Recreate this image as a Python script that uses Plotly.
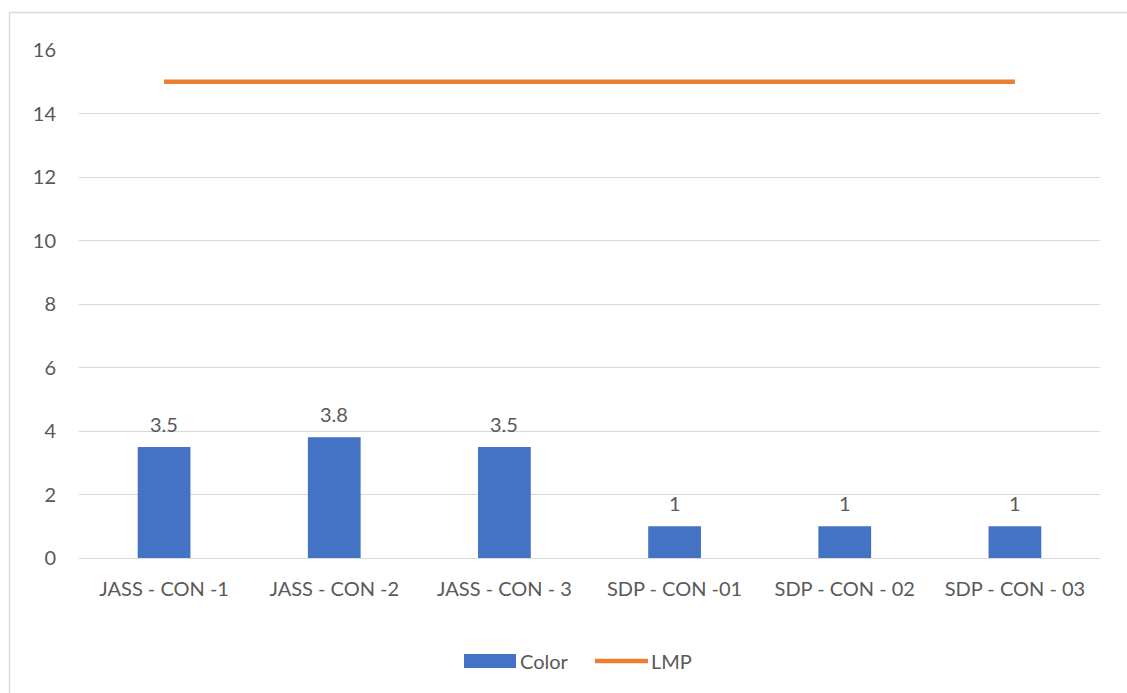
import plotly.graph_objects as go

categories = ["JASS - CON -1", "JASS - CON -2", "JASS - CON - 3",
              "SDP - CON -01", "SDP - CON - 02", "SDP - CON - 03"]
color_values = [3.5, 3.8, 3.5, 1, 1, 1]
lmp_values = [15, 15, 15, 15, 15, 15]
y_ticks = [0, 2, 4, 6, 8, 10, 12, 14, 16]

BLUE = "#4472C4"
ORANGE = "#ED7D31"
TEXT = "#595959"
GRID = "#D9D9D9"
FONT = "Lato"
FS = 20

fig = go.Figure()
fig.add_trace(go.Bar(x=categories, y=color_values, name="Color",
                     marker=dict(color=BLUE, line=dict(width=0)),
                     showlegend=False))
fig.add_trace(go.Scatter(x=categories, y=lmp_values, name="LMP", mode="lines",
                         line=dict(color=ORANGE, width=4.5),
                         showlegend=False))

# value labels above each bar
for c, v in zip(categories, color_values):
    fig.add_annotation(x=c, y=v, text=str(v), showarrow=False,
                       yanchor="bottom", yshift=9,
                       font=dict(family=FONT, size=FS, color=TEXT))

W, H = 1127, 693
L, R, T, B = 79, 27, 50, 135
pw, ph = W - L - R, H - T - B

def px(x):
    return (x - L) / pw

def py(y):
    return (H - B - y) / ph

# outer chart frame
fig.add_shape(type="rect", xref="paper", yref="paper",
              x0=px(9.5), x1=px(1135), y0=py(705), y1=py(12.5),
              line=dict(color=GRID, width=1.3), layer="below")

# legend drawn as shapes + text
ly = py(661)
fig.add_shape(type="rect", xref="paper", yref="paper",
              x0=px(464), x1=px(516), y0=py(668), y1=py(654),
              fillcolor=BLUE, line=dict(width=0))
fig.add_annotation(xref="paper", yref="paper", x=px(518), y=ly, text="Color",
                   showarrow=False, xanchor="left", yanchor="middle",
                   font=dict(family=FONT, size=FS, color=TEXT))
fig.add_shape(type="line", xref="paper", yref="paper",
              x0=px(595), x1=px(648), y0=ly, y1=ly,
              line=dict(color=ORANGE, width=4.5))
fig.add_annotation(xref="paper", yref="paper", x=px(649), y=ly, text="LMP",
                   showarrow=False, xanchor="left", yanchor="middle",
                   font=dict(family=FONT, size=FS, color=TEXT))

fig.update_layout(
    width=W, height=H,
    margin=dict(l=L, r=R, t=T, b=B),
    paper_bgcolor="white", plot_bgcolor="white",
    bargap=0.69,
    font=dict(family=FONT, size=FS, color=TEXT),
)
fig.update_xaxes(showgrid=False, showline=False, ticks="",
                 tickfont=dict(family=FONT, size=FS, color=TEXT),
                 ticklabelstandoff=17)
fig.update_yaxes(range=[0, 16], tickvals=y_ticks, showgrid=True,
                 gridcolor=GRID, gridwidth=1.3, zeroline=True,
                 zerolinecolor=GRID, zerolinewidth=1.3, showline=False,
                 ticks="", tickfont=dict(family=FONT, size=FS, color=TEXT),
                 ticklabelstandoff=22)

fig.write_html("out.html")
